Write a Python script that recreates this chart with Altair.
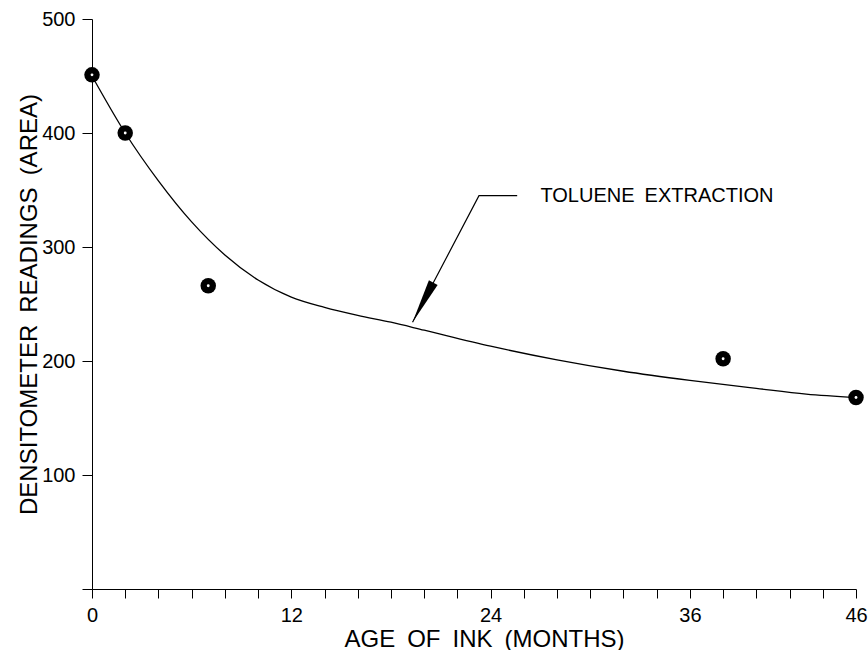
import altair as alt
import pandas as pd

# measured points
months = [0, 2, 7, 38, 46]
readings = [451, 400, 266, 202, 168]

# fitted smooth curve
curve_months = [0, 2, 4, 6, 8, 10, 12, 14, 16, 18, 20, 24, 28, 32, 36, 40, 43, 46]
curve_vals = [450, 400, 358, 322, 293, 271, 256, 247, 240, 234, 227, 213, 201, 191, 183, 176, 171, 168]

# annotation (data units)
note_text = "TOLUENE  EXTRACTION"
note_x = [27.0]
note_y = [345]
arrow_x = [25.6, 23.3, 19.3]
arrow_y = [345, 345, 234]

x_tick_values = list(range(0, 47, 2))
x_label_values = [0, 12, 24, 36, 46]
y_tick_values = [0, 100, 200, 300, 400, 500]

FONT = "Liberation Sans"
SP = "\u2002"

pts = pd.DataFrame({"m": months, "v": readings})
crv = pd.DataFrame({"m": curve_months, "v": curve_vals})
arr = pd.DataFrame({"m": arrow_x, "v": arrow_y, "o": list(range(len(arrow_x)))})
tip = pd.DataFrame({"m": [arrow_x[-1]], "v": [arrow_y[-1]]})
note = pd.DataFrame({"m": note_x, "v": note_y, "t": [note_text.replace("  ", SP)]})

label_test = " || ".join(f"datum.value == {v}" for v in x_label_values)

xscale = alt.Scale(domain=[0, 46], nice=False, zero=False)
yscale = alt.Scale(domain=[0, 500], nice=False)

xaxis = alt.Axis(
    values=x_tick_values, tickCount=100, format="d",
    labelExpr=f"({label_test}) ? datum.label : ''",
    title=f"AGE{SP}OF{SP}INK{SP}(MONTHS)",
    grid=False, tickSize=9, labelPadding=7, labelFontSize=20, labelFont=FONT,
    labelColor="black", tickColor="black", domainColor="black",
    titleFont=FONT, titleFontSize=24, titleFontWeight="normal", titleColor="black",
    titleBaseline="alphabetic", titleY=57, titleX=392, labelFlush=False, labelOverlap=False,
)
yaxis = alt.Axis(
    values=y_tick_values, tickCount=100, format="d",
    labelExpr="datum.value == 0 ? '' : datum.label",
    title=f"DENSITOMETER{SP}READINGS{SP}(AREA)",
    grid=False, tickSize=10, labelPadding=7, labelFontSize=20, labelFont=FONT,
    labelColor="black", tickColor="black", domainColor="black",
    titleFont=FONT, titleFontSize=24, titleFontWeight="normal", titleColor="black",
    titleBaseline="alphabetic", titleX=-56, titleY=285, titleAngle=270, labelFlush=False,
)

line = alt.Chart(crv).mark_line(color="black", strokeWidth=1.3, interpolate="monotone").encode(
    x=alt.X("m:Q", scale=xscale, axis=xaxis),
    y=alt.Y("v:Q", scale=yscale, axis=yaxis),
)

dots = alt.Chart(pts).mark_point(filled=True, color="black", size=240, opacity=1).encode(
    x="m:Q", y="v:Q"
)
centers = alt.Chart(pts).mark_point(filled=True, color="white", size=8, opacity=1).encode(
    x="m:Q", y="v:Q"
)

arrow_line = alt.Chart(arr).mark_line(color="black", strokeWidth=1.2).encode(
    x="m:Q", y="v:Q", order="o:Q"
)
arrow_head = alt.Chart(tip).mark_point(
    shape="M0,0 L0.22,2 L-0.22,2 Z", filled=True, color="black", opacity=1,
    size=2000, angle=207.6, strokeWidth=0,
).encode(x="m:Q", y="v:Q")

label = alt.Chart(note).mark_text(
    align="left", baseline="middle", font=FONT, fontSize=20, color="black"
).encode(x="m:Q", y="v:Q", text="t:N")

chart = alt.layer(line, arrow_line, arrow_head, dots, centers, label).properties(
    width=764, height=570,
    padding={"left": 92, "top": 19, "right": 12, "bottom": 61},
    autosize=alt.AutoSizeParams(type="none"),
    background="white",
).configure_view(stroke=None)

chart.save("out.html", embed_options={"renderer": "svg", "actions": False})
